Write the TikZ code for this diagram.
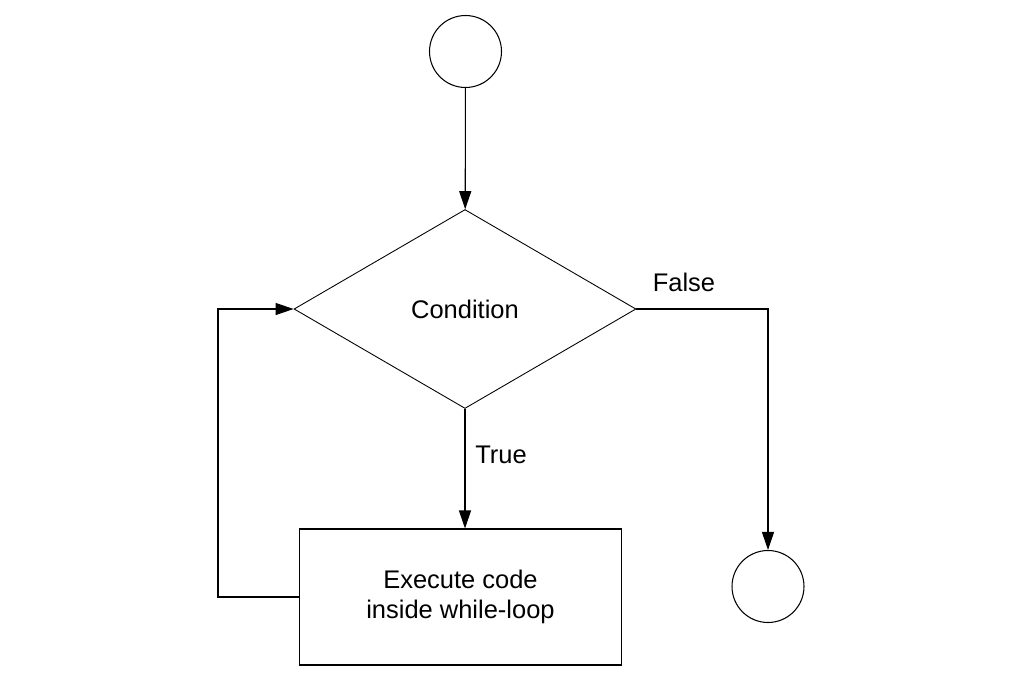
\documentclass[tikz,border=0pt]{standalone}
\usepackage{fontspec}
\setmainfont{Liberation Sans}
\usetikzlibrary{shapes.geometric, arrows.meta}
\tikzstyle{terminal} = [circle, minimum size=1.44cm, inner sep=0pt, draw=black, line width=0.6pt]
\tikzstyle{decision} = [diamond, minimum width=6.84cm, minimum height=3.98cm, inner sep=0pt, text centered, draw=black, line width=0.5pt]
\tikzstyle{process} = [rectangle, minimum width=6.44cm, minimum height=2.72cm, align=center, text centered, draw=black, line width=0.6pt]
\tikzstyle{tag} = [inner sep=0pt]
\tikzstyle{arrow} = [line width=0.6pt, -{Triangle[length=0.36cm, width=0.24cm]}]

\begin{document}
\begin{tikzpicture}[x=0.02cm, y=-0.02cm, font=\fontsize{14.5}{17.5}\selectfont]
            \useasboundingbox (0,0) rectangle (1021,680);
            \node (start) [terminal] at (465.5,51.5) {};
            \node (cond) [decision] at (465,309) {Condition};
            \node (body) [process] at (460.5,597) {Execute code\\inside while-loop};
            \node (stop) [terminal] at (768,586.5) {};
            \node (false) [tag] at (684,282) {False};
            \node (true) [tag] at (501,455) {True};
            \coordinate (lb) at (218,597);

            \draw [arrow] (start) -- (cond);
            \draw [arrow] (cond.south) -- (cond.south |- body.north);
            \draw [arrow] (cond.east) -| (stop.north);
            \draw [arrow] (body.west) -- (lb) |- (cond.west);
        \end{tikzpicture}
\end{document}
